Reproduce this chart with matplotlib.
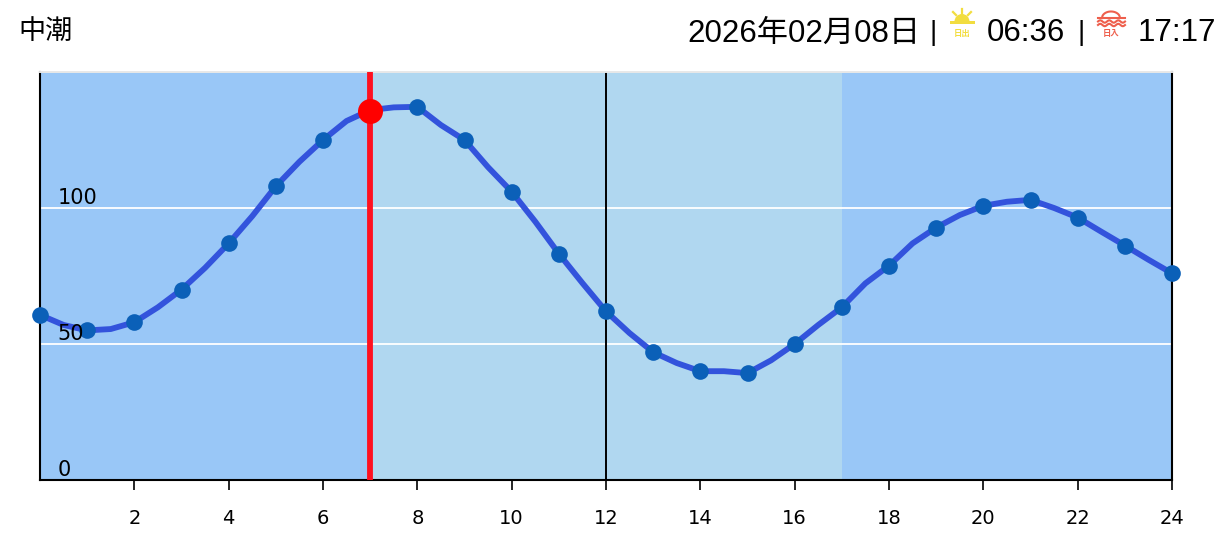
import matplotlib
matplotlib.use('Agg')
import matplotlib.pyplot as plt
from matplotlib.patches import Wedge, Rectangle
import numpy as np

plt.rcParams['font.family'] = ['Liberation Sans', 'Noto Sans CJK JP', 'DejaVu Sans']

# hourly points
hours = list(range(25))
tide = [60.7, 55, 58, 70, 87, 108, 125, 136, 137.2, 125, 106, 83.2, 62, 47, 40, 39.3, 50, 63.5,
        78.8, 92.8, 100.8, 103, 96.5, 86.2, 76]
# line runs through half hour readings as well
line_hours = [i / 2 for i in range(49)]
line_vals = [60.7, 57, 55, 55.5, 58, 63.5, 70, 78, 87, 97, 108, 117, 125, 132, 136, 137, 137.2,
             130.5, 125, 115, 106, 95, 83.2, 72.4, 62, 54, 47, 43, 40, 40, 39.3, 44, 50, 57, 63.5, 72.3,
             78.8, 87, 92.8, 97.4, 100.8, 102.3, 103, 100, 96.5, 91.3, 86.2, 81, 76]
bands = [(0, 7, '#99c7f7'), (7, 17, '#b0d7f0'), (17, 24, '#99c7f7')]
xticks = list(range(2, 25, 2))
yticks = [0, 50, 100]
now_hour = 7
now_val = 135.7

W, H = 1231, 549
fig = plt.figure(figsize=(W / 100, H / 100), dpi=100)
ax = fig.add_axes([40 / W, 1 - 480 / H, 1132 / W, 408 / H])

for a, b, c in bands:
    ax.axvspan(a, b, color=c, lw=0, zorder=0)
for y in [50, 100]:
    ax.axhline(y, color='white', lw=1.3, zorder=1)
ax.axvline(12, color='black', lw=1.4, zorder=1)

ax.plot(line_hours, line_vals, color='#3353dc', lw=4.2, zorder=3, clip_on=False)
ax.plot(hours, tide, 'o', color='#0b60b8', ms=12, mew=0, zorder=4, clip_on=False)
ax.axvline(now_hour, color='#ff1020', lw=4.2, zorder=5)
ax.plot([now_hour], [now_val], 'o', color='#ff0000', ms=18, mew=0, zorder=6, clip_on=False)

ax.set_xlim(0, 24)
ax.set_ylim(0, 150)
ax.set_xticks(xticks)
ax.set_xticklabels([str(x) for x in xticks], family='DejaVu Sans', fontsize=14)
ax.set_yticks([])
ax.tick_params(axis='x', length=7.2, width=1.2, pad=14)
for s in ['left', 'right', 'bottom']:
    ax.spines[s].set_linewidth(1.5)
ax.spines['top'].set_color('#e8e8e8')
ax.spines['top'].set_linewidth(1.4)

for y in yticks:
    ax.annotate(str(y), (0, y), xytext=(12.5, 2.6), textcoords='offset points',
                family='DejaVu Sans', fontsize=15, va='baseline', ha='left', zorder=7)

# header in pixel coordinates
ov = fig.add_axes([0, 0, 1, 1], zorder=10)
ov.set_xlim(0, W)
ov.set_ylim(H, 0)
ov.axis('off')
ov.text(18, 32, '中潮', fontsize=19.5, va='center', ha='left')
ov.text(687, 34, '2026年02月08日', fontsize=22.5, va='center', ha='left')
ov.text(933, 33, '|', fontsize=20, va='center', ha='center')
ov.text(987, 33, '06:36', fontsize=22.5, va='center', ha='left')
ov.text(1081, 33, '|', fontsize=20, va='center', ha='center')
ov.text(1138, 33, '17:17', fontsize=22.5, va='center', ha='left')

# sunrise icon
sun = '#f2dd3f'
ov.add_patch(Wedge((962, 21.5), 7.5, 180, 360, color=sun, lw=0))
ov.add_patch(Rectangle((950, 20.5), 25, 3, color=sun, lw=0))
for x1, y1, x2, y2 in [(962, 9, 962, 12.5), (953, 12, 956, 15), (971, 12, 968, 15)]:
    ov.plot([x1, x2], [y1, y2], color=sun, lw=1.6)
ov.text(962, 34, '日出', fontsize=6, color=sun, ha='center', va='center', weight='bold')

# sunset icon
red = '#ee5f4c'
t = np.linspace(-1, 1, 40)
ov.plot(1111 + 9 * t, 18 - np.sqrt(1 - t ** 2) * 6.5, color=red, lw=1.5)
ov.plot([1098, 1125], [18, 18], color=red, lw=1.5)
for y in [21.5, 25]:
    ov.plot(1111.5 + 13.5 * t, y + 1.2 * np.sin(t * 9.4), color=red, lw=1.5)
ov.text(1111, 34, '日入', fontsize=6, color=red, ha='center', va='center', weight='bold')

fig.savefig('out.png', dpi=100)
